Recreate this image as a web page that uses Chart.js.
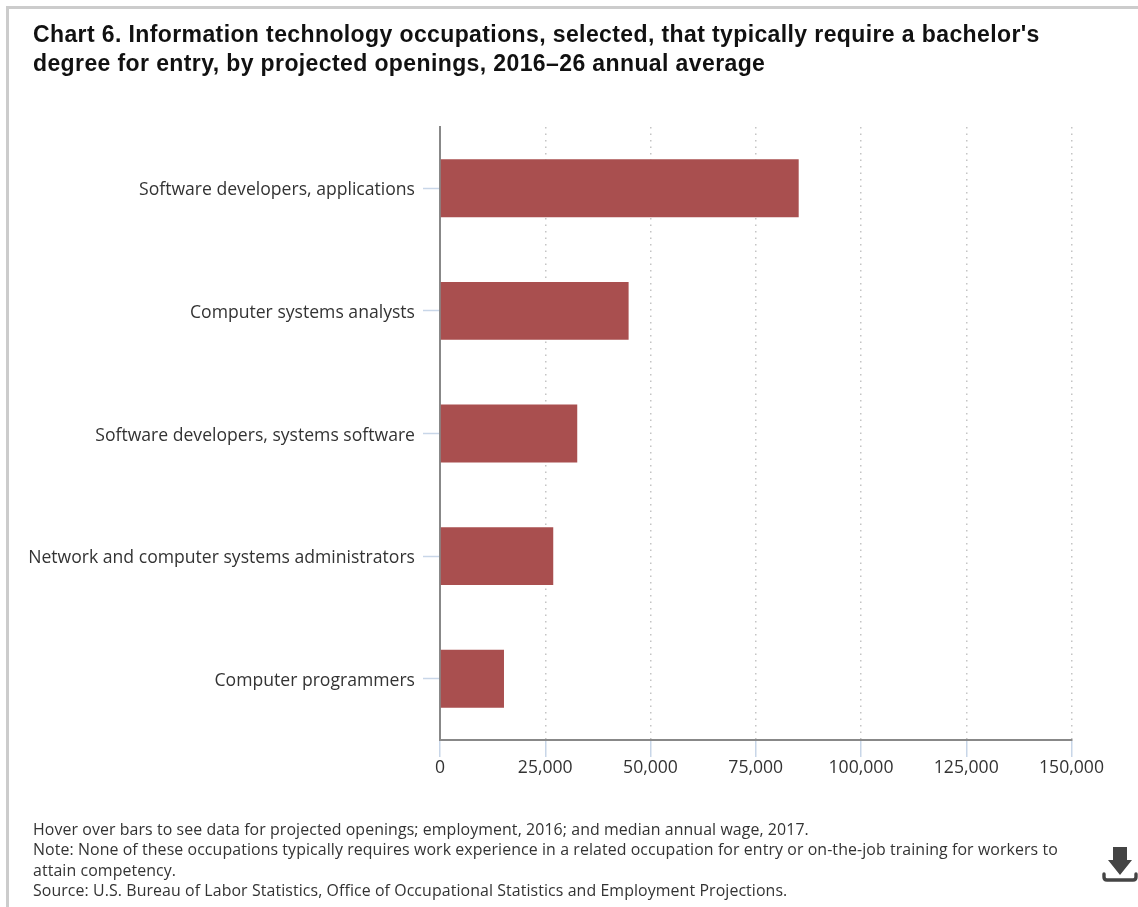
<!DOCTYPE html>
<html>
<head>
<meta charset="utf-8">
<style>
html,body{margin:0;padding:0;background:#fff;width:1138px;height:907px;overflow:hidden}
#frameTop{position:absolute;left:6px;top:6px;width:1132px;height:3px;background:#ccc}
#frameLeft{position:absolute;left:6px;top:6px;width:3px;height:901px;background:#ccc}
#plot{position:absolute;left:0;top:0;width:1138px;height:907px}
#title{position:absolute;left:33px;top:20px;width:1060px;font:bold 23px/29px "Liberation Sans",sans-serif;color:#111;letter-spacing:.39px}
#notes{position:absolute;left:33px;top:819px;width:1060px;font:15.9px/20.4px "Open Sans",sans-serif;color:#333;white-space:nowrap;letter-spacing:.09px}
#download{position:absolute;left:1101px;top:846px;width:38px;height:38px}
</style>
</head>
<body>
<div id="frameTop"></div>
<div id="frameLeft"></div>
<div id="plot"><canvas id="chart" width="1138" height="907"></canvas></div>
<div id="title">Chart 6. Information technology occupations, selected, that typically require a bachelor's<br>degree for entry, by projected openings, 2016–26 annual average</div>
<div id="notes">Hover over bars to see data for projected openings; employment, 2016; and median annual wage, 2017.<br>Note: None of these occupations typically requires work experience in a related occupation for entry or on-the-job training for workers to<br>attain competency.<br>Source: U.S. Bureau of Labor Statistics, Office of Occupational Statistics and Employment Projections.</div>
<svg id="download" viewBox="0 0 38 38"><path fill="#444" d="M12 1h14v13h5L19 29 7 14h5z"/><path fill="none" stroke="#444" stroke-width="3.4" stroke-linecap="round" stroke-linejoin="round" d="M3 28v3q0 3 3 3h26q3 0 3-3v-3"/></svg>
<script src="https://cdn.jsdelivr.net/npm/chart.js@4/dist/chart.umd.min.js"></script>
<script>
const occupations = [
  "Software developers, applications",
  "Computer systems analysts",
  "Software developers, systems software",
  "Network and computer systems administrators",
  "Computer programmers"
];
const projectedOpenings = [85200, 44800, 32600, 26900, 15200];
const openingTicks = [0, 25000, 50000, 75000, 100000, 125000, 150000];

const AXIS_FONT = { family: '"Open Sans", sans-serif', size: 17.6 };

// Sets the category labels slightly below their tick marks.
const categoryLabelNudge = {
  id: "categoryLabelNudge",
  beforeDraw(chart) {
    chart.scales.y.getLabelItems().forEach(item => { item.textOffset = 2; });
  }
};

new Chart(document.getElementById("chart"), {
  type: "bar",
  plugins: [categoryLabelNudge],
  data: {
    labels: occupations,
    datasets: [{
      label: "Projected openings",
      data: projectedOpenings,
      backgroundColor: "#a94f4f",
      borderWidth: 0,
      categoryPercentage: 1,
      barPercentage: 0.472
    }]
  },
  options: {
    indexAxis: "y",
    responsive: false,
    animation: false,
    layout: { padding: { left: 0, right: 66.5, top: 127, bottom: 0 } },
    plugins: { legend: { display: false }, tooltip: { enabled: true } },
    scales: {
      y: {
        type: "category",
        afterFit(scale) { scale.width = 440; },
        grid: { offset: false, drawOnChartArea: false, tickLength: 17, tickColor: "#c8d6e8", tickWidth: 1.5 },
        border: { display: true, color: "#888", width: 2 },
        ticks: { color: "#333", font: AXIS_FONT, padding: 8 }
      },
      x: {
        type: "linear",
        min: 0,
        max: 150000,
        afterFit(scale) { scale.height = 167; },
        afterBuildTicks(scale) { scale.ticks = openingTicks.map(value => ({ value })); },
        grid: { color: "#c4c4c4", lineWidth: 1.5, tickLength: 17, tickColor: "#c8d6e8", tickWidth: 1.5, tickBorderDash: [] },
        border: { display: true, color: "#888", width: 2, dash: [1.5, 5] },
        ticks: {
          color: "#333",
          font: AXIS_FONT,
          padding: 0,
          maxRotation: 0,
          autoSkip: false,
          callback: value => value.toLocaleString("en-US")
        }
      }
    }
  }
});
</script>
</body>
</html>
